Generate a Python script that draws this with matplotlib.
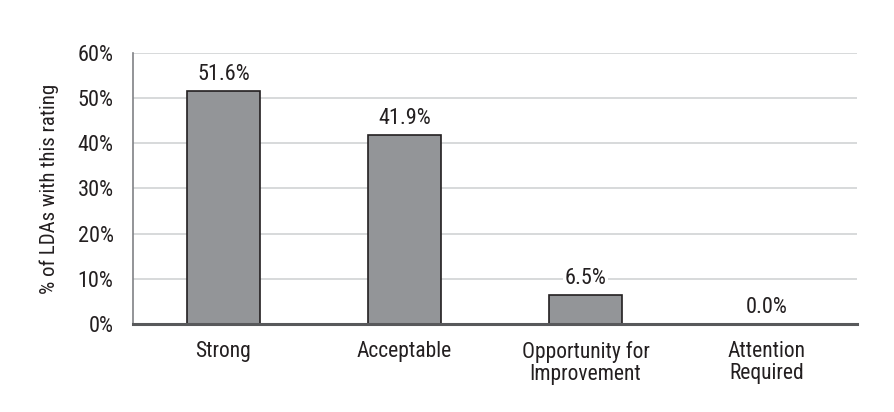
import matplotlib.pyplot as plt

categories = ["Strong", "Acceptable", "Opportunity for\nImprovement", "Attention\nRequired"]
values = [51.6, 41.9, 6.5, 0.0]
yticks = [0, 10, 20, 30, 40, 50, 60]

plt.rcParams["font.family"] = ["Roboto Condensed", "Archivo Narrow", "DejaVu Sans"]
txt_color = "#231f20"

fig = plt.figure(figsize=(8.95, 4.12), dpi=100)
ax = fig.add_axes([0.1486, 0.2136, 0.8089, 0.6578])

x = range(len(categories))
ax.bar(x, values, width=0.4, color="#939598", edgecolor=txt_color, linewidth=1.2, zorder=3)

for xi, v in zip(x, values):
    ax.annotate(f"{v:.1f}%", (xi, v), xytext=(0, 4), textcoords="offset points",
                ha="center", va="bottom", fontsize=16, color=txt_color,
                bbox=dict(facecolor="white", edgecolor="none", pad=1.5), zorder=4)

ax.set_xlim(-0.5, len(categories) - 0.5)
ax.set_ylim(0, 60)
ax.set_yticks(yticks)
ax.set_yticklabels([f"{t}%" for t in yticks], fontsize=16, color=txt_color)
ax.set_xticks(list(x))
ax.set_xticklabels(categories, fontsize=15.5, color=txt_color, linespacing=1.1)
ax.tick_params(length=0)
ax.tick_params(axis="y", pad=14)
ax.tick_params(axis="x", pad=12)
ax.set_ylabel("% of LDAs with this rating", fontsize=15, color=txt_color, labelpad=13)

ax.yaxis.grid(True, color="#d1d3d4", linewidth=1.2, zorder=0)
ax.set_axisbelow(True)
for s in ["top", "right"]:
    ax.spines[s].set_visible(False)
ax.spines["left"].set_color("#808285")
ax.spines["left"].set_linewidth(1.2)
ax.spines["bottom"].set_color("#58595b")
ax.spines["bottom"].set_linewidth(2.2)
ax.spines["bottom"].set_zorder(5)

fig.savefig("out.png", dpi=100)
